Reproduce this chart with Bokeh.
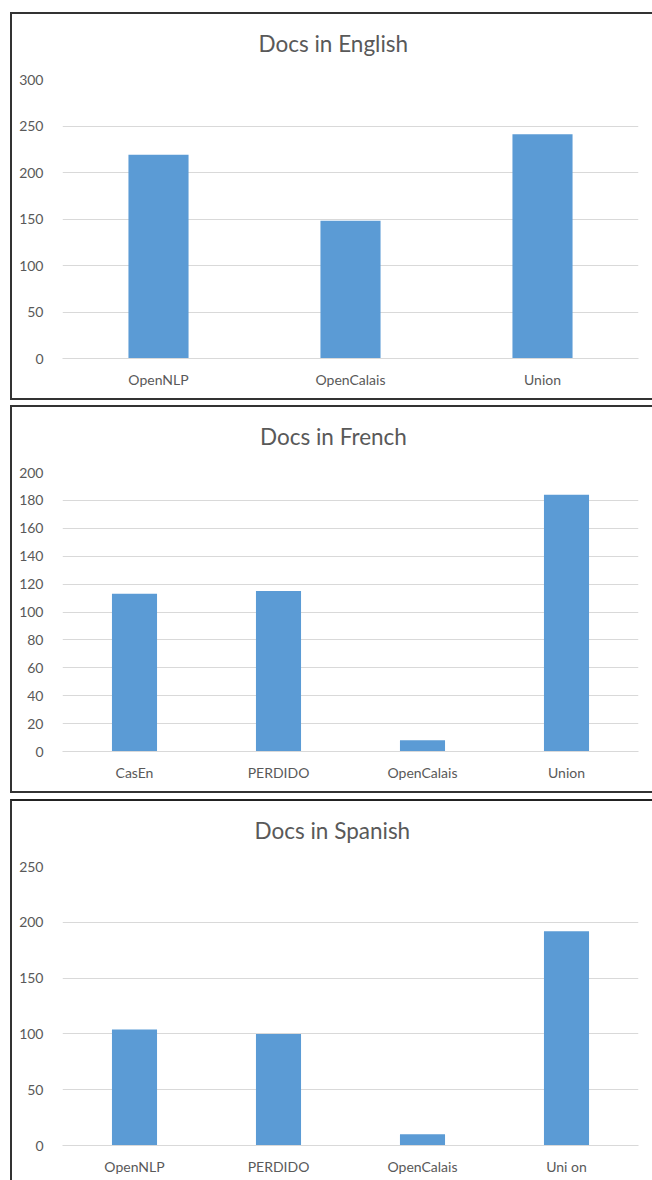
from bokeh.plotting import figure
from bokeh.layouts import column
from bokeh.models import SingleIntervalTicker, Title
from bokeh.embed import file_html
from bokeh.resources import INLINE

# ---- data ----
en_title = "Docs in English"
en_cats = ["OpenNLP", "OpenCalais", "Union"]
en_vals = [219, 148, 241]

fr_title = "Docs in French"
fr_cats = ["CasEn", "PERDIDO", "OpenCalais", "Union"]
fr_vals = [113, 115, 8, 184]

es_title = "Docs in Spanish"
es_cats = ["OpenNLP", "PERDIDO", "OpenCalais", "Uni on"]
es_vals = [104, 100, 10, 192]

y_max = [300, 200, 250]
y_step = [50, 20, 50]

TEXT = "#595959"
GRID = "#D9D9D9"
BAR = "#5B9BD5"
FONT = "Lato"
TITLE_PX = 22.5
# approximate rendered width of each title (px) so that it can be centred on the box
TITLE_W = {en_title: 148, fr_title: 145, es_title: 156}
TITLE_CENTER_FROM_FRAME_LEFT = 270


def make(title, cats, vals, ymax, step, height, mbb, borders, margin):
    p = figure(x_range=cats, y_range=(0, ymax), width=640, height=height,
               output_backend="svg", toolbar_location=None,
               min_border_left=50, min_border_right=16, min_border_top=65,
               min_border_bottom=mbb)
    p.vbar(x=cats, top=vals, width=0.313, fill_color=BAR, line_color=None)
    p.outline_line_color = None
    p.background_fill_color = "white"
    p.border_fill_color = "white"

    # invisible spacer between frame and title (nearest to the frame)
    p.add_layout(Title(text=" ", text_font_size="2px", standoff=12,
                       text_color="white"), "above")
    p.add_layout(Title(text=title, align="left",
                       offset=TITLE_CENTER_FROM_FRAME_LEFT - TITLE_W[title] / 2,
                       text_font=FONT, text_font_size=f"{TITLE_PX}px",
                       text_font_style="normal", text_color=TEXT,
                       vertical_align="top", standoff=10), "above")

    p.xgrid.grid_line_color = None
    p.ygrid.grid_line_color = GRID
    p.ygrid.grid_line_width = 1

    p.yaxis.ticker = SingleIntervalTicker(interval=step)
    p.yaxis.axis_line_color = None
    p.yaxis.major_tick_line_color = None
    p.yaxis.minor_tick_line_color = None
    p.yaxis.major_tick_out = 0
    p.yaxis.major_label_standoff = 15
    p.yaxis.major_label_text_font = FONT
    p.yaxis.major_label_text_font_size = "14px"
    p.yaxis.major_label_text_color = TEXT

    p.xaxis.axis_line_color = GRID
    p.xaxis.major_tick_line_color = None
    p.xaxis.minor_tick_line_color = None
    p.xaxis.major_tick_out = 0
    p.xaxis.major_label_standoff = 12
    p.xaxis.major_label_text_font = FONT
    p.xaxis.major_label_text_font_size = "14px"
    p.xaxis.major_label_text_color = TEXT

    p.styles = borders
    p.margin = margin
    return p


b_full = {"border-top": "2px solid #333", "border-left": "2px solid #333",
          "border-bottom": "2px solid #333", "box-sizing": "content-box"}
b_open = {"border-top": "2px solid #222", "border-left": "2px solid #333",
          "box-sizing": "content-box"}

p1 = make(en_title, en_cats, en_vals, y_max[0], y_step[0], 384, 44, b_full, (12, 0, 0, 10))
p2 = make(fr_title, fr_cats, fr_vals, y_max[1], y_step[1], 384, 44, b_full, (5, 0, 0, 10))
p3 = make(es_title, es_cats, es_vals, y_max[2], y_step[2], 379, 37, b_open, (6, 0, 0, 10))

layout = column(p1, p2, p3, spacing=0)

open("out.html", "w").write(file_html(layout, INLINE))
